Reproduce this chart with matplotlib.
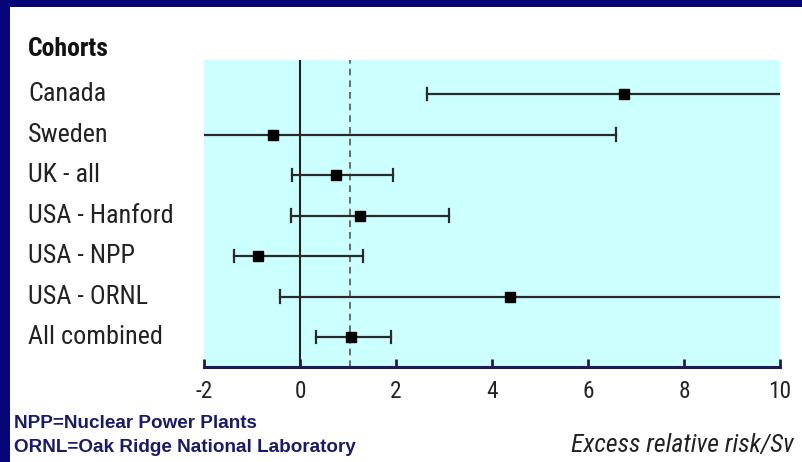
import matplotlib
matplotlib.use("Agg")
import matplotlib.pyplot as plt
from matplotlib.patches import Rectangle
from matplotlib.transforms import blended_transform_factory
import numpy as np

cohorts = ["Canada", "Sweden", "UK - all", "USA - Hanford", "USA - NPP", "USA - ORNL", "All combined"]
estimate = [6.74, -0.56, 0.74, 1.25, -0.87, 4.37, 1.06]
lower = [2.64, -2.5, -0.17, -0.19, -1.37, -0.42, 0.33]
upper = [10.5, 6.58, 1.94, 3.11, 1.32, 10.5, 1.90]
combined_ref = 1.05
xticks = [-2, 0, 2, 4, 6, 8, 10]

W, H = 802, 462
fig = plt.figure(figsize=(W / 100, H / 100), dpi=100)
fig.patch.set_facecolor("#06067a")
fig.patches.append(Rectangle((10 / W, 0), 1 - 10 / W, 1 - 7 / H, transform=fig.transFigure,
                             facecolor="white", edgecolor="none", zorder=-5))

COND = ["Roboto Condensed", "Roboto", "DejaVu Sans"]
ST = "condensed"

ax = fig.add_axes([204 / W, (H - 367) / H, (780 - 204) / W, (367 - 60) / H])
ax.set_facecolor("#ccffff")
ax.set_xlim(-2, 10)
ax.set_ylim(6.74, -0.84)
for s in ["top", "left", "right"]:
    ax.spines[s].set_visible(False)
ax.spines["bottom"].set_color("#1c1c5c")
ax.spines["bottom"].set_linewidth(2.2)
ax.set_yticks([])
ax.set_xticks(xticks)
ax.set_xticklabels([str(t) for t in xticks], fontfamily=COND, fontstretch=ST, fontsize=16.8, color="#222222")
ax.tick_params(axis="x", direction="in", length=6, width=2, color="#1c1c5c", pad=9)

ax.axvline(0, color="#222222", lw=1.5, zorder=2)
ax.axvline(combined_ref, color="#555555", lw=1.2, ls=(0, (4, 3)), zorder=2)

y = np.arange(len(cohorts))
xmin, xmax = ax.get_xlim()
for i in range(len(cohorts)):
    ax.plot([lower[i], upper[i]], [y[i], y[i]], color="#2a2a2a", lw=1.6, zorder=3)
    for end in (lower[i], upper[i]):
        if xmin < end < xmax:
            ax.plot([end, end], [y[i] - 0.15, y[i] + 0.15], color="#2a2a2a", lw=1.6, zorder=3)
ax.plot(estimate, y, ls="none", marker="s", ms=7, color="black", zorder=4)

trans = blended_transform_factory(fig.transFigure, ax.transData)
for i, name in enumerate(cohorts):
    ax.text(28 / W, y[i], name, transform=trans, ha="left", va="center",
            fontfamily=COND, fontstretch=ST, fontsize=18.8, color="#222222", clip_on=False)
fig.text(28 / W, 1 - 49 / H, "Cohorts", ha="left", va="center", fontfamily=COND, fontstretch=ST,
         fontsize=18.5, fontweight="bold", color="#111111")

fig.text(571 / W, 1 - 445 / H, "Excess relative risk/Sv", ha="left", va="center",
         fontfamily=COND, fontstretch=ST, fontsize=18.5, fontstyle="italic", color="#222222")

fig.text(14 / W, 1 - 424 / H, "NPP=Nuclear Power Plants", ha="left", va="center",
         fontfamily="Liberation Sans", fontsize=13.6, fontweight="bold", color="#1a1a66")
fig.text(14 / W, 1 - 447 / H, "ORNL=Oak Ridge National Laboratory", ha="left", va="center",
         fontfamily="Liberation Sans", fontsize=13.6, fontweight="bold", color="#1a1a66")

fig.savefig("out.png", dpi=100, facecolor=fig.get_facecolor())
